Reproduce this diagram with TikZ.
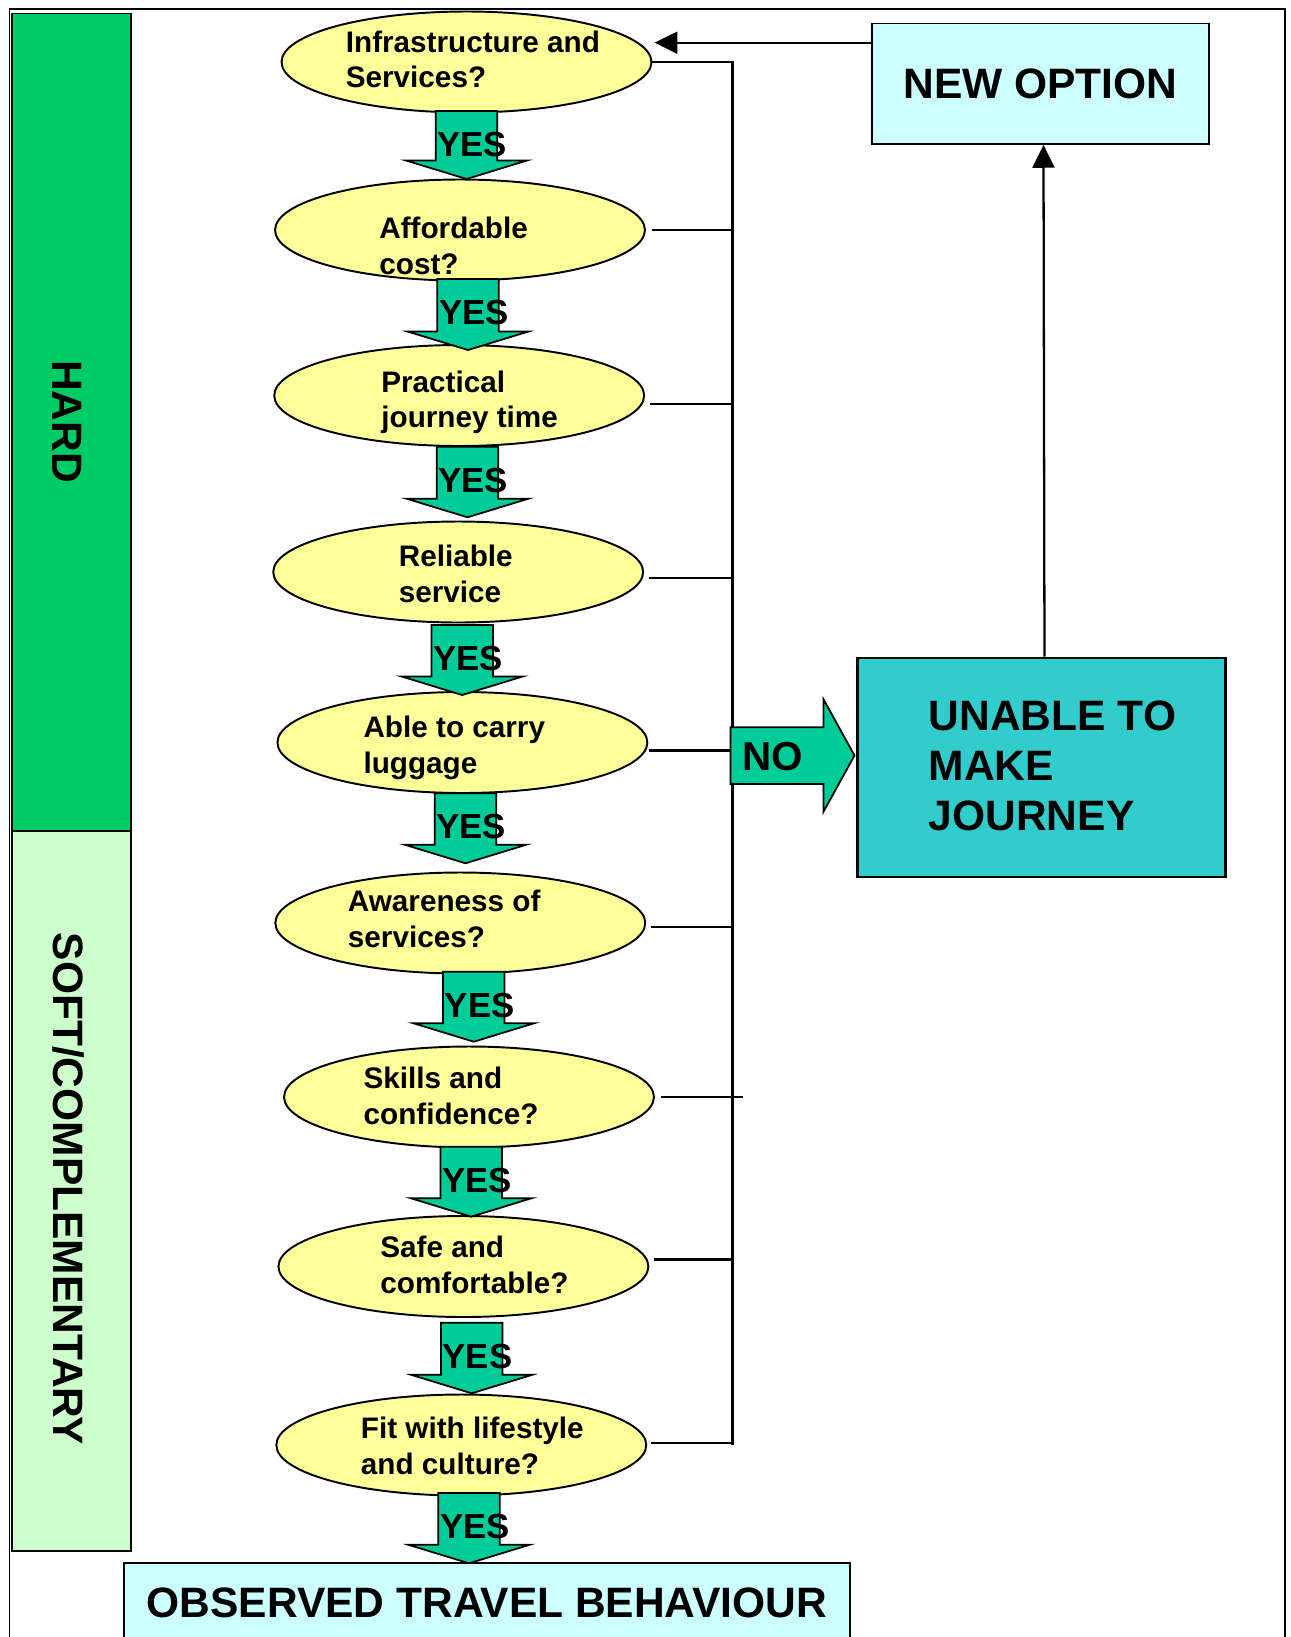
\documentclass[tikz,border=0pt]{standalone}
\usepackage{fontspec}
\setmainfont{Liberation Sans}
\usetikzlibrary{shapes.geometric, calc, arrows.meta, positioning}

\definecolor{askyellow}{HTML}{FFFF99}
\definecolor{yesgreen}{HTML}{00CC99}
\definecolor{hardgreen}{HTML}{00CC66}
\definecolor{softgreen}{HTML}{CCFFCC}
\definecolor{paleblue}{HTML}{CCFFFF}
\definecolor{tealbox}{HTML}{33CCCC}

\tikzset{
  ask/.style={ellipse, draw=black, line width=1.1pt, fill=askyellow,
    minimum width=7.4cm, minimum height=2.02cm, inner sep=0pt},
  asktxt/.style={anchor=west, align=left, inner sep=0pt,
    font=\fontsize{16.9}{20.1}\selectfont\bfseries},
  yesarrow/.style={draw=black, line width=1pt, fill=yesgreen},
  yestxt/.style={anchor=west, inner sep=0pt,
    font=\fontsize{19.8}{23}\selectfont\bfseries},
  bigtxt/.style={inner sep=0pt, font=\fontsize{24.2}{28.6}\selectfont\bfseries},
  busline/.style={draw=black, line width=1.3pt},
  linkarrow/.style={draw=black, line width=1.3pt,
    -{Triangle[length=13pt,width=12.5pt]}},
  sidebar/.style={draw=black, line width=1.1pt},
}

\begin{document}
\begin{tikzpicture}[x=0.02cm, y=-0.02cm]
\useasboundingbox (0,0) rectangle (1291,1637);
\clip (0,0) rectangle (1291,1637);

% block arrow sizes
\pgfmathsetmacro{\shaft}{30.8}
\pgfmathsetmacro{\headw}{60.5}
\pgfmathsetmacro{\headlen}{18.5}

% outer frame, open at the bottom
\draw[line width=1pt] (9.5,1660) -- (9.5,9) -- (1285,9) -- (1285,1660);

% side bars
\draw[sidebar, fill=hardgreen] (12,13.5) rectangle (131,831);
\draw[sidebar, fill=softgreen] (12,831) rectangle (131,1551);
\node[bigtxt, rotate=-90] (hard) at (67,421.6) {HARD};
\node[bigtxt, rotate=-90] (soft) at (68,1189) {SOFT/COMPLEMENTARY};

% question ellipses
\node[ask] (q1) at (466.5,62) {};
\node[ask] (q2) at (460,230) {};
\node[ask] (q3) at (459.2,395.5) {};
\node[ask] (q4) at (458.2,572) {};
\node[ask] (q5) at (462.4,742.5) {};
\node[ask] (q6) at (460.3,923) {};
\node[ask] (q7) at (469,1097) {};
\node[ask] (q8) at (463.4,1266.5) {};
\node[ask] (q9) at (461.3,1445) {};

% yes arrows down the column
\foreach \ax/\ytop/\ytip [count=\i] in {466.5/111/179, 468/279/350,
    467.5/446.7/517.3, 462.2/625/695, 465.5/793.3/863.3,
    473.8/971.7/1041.7, 471.2/1146.7/1216.7, 471.7/1322.7/1393.3,
    469/1493/1563.3} {
  \draw[yesarrow] (\ax-\shaft,\ytop) -- (\ax+\shaft,\ytop)
    -- (\ax+\shaft,\ytip-\headlen) -- (\ax+\headw,\ytip-\headlen)
    -- (\ax,\ytip) -- (\ax-\headw,\ytip-\headlen)
    -- (\ax-\shaft,\ytip-\headlen) -- cycle;
  \node[yestxt] (yes\i) at (\ax-\shaft+1.5,\ytop+33.5) {YES};
}

% question texts
\node[asktxt] (t1) at (345.5,59.5) {Infrastructure and\\Services?};
\node[asktxt] (t2) at (379,246) {Affordable\\cost?};
\node[asktxt] (t3) at (381,402) {Practical\\journey time};
\node[asktxt] (t4) at (398.5,574) {Reliable\\service};
\node[asktxt] (t5) at (363.2,748) {Able to carry\\luggage};
\node[asktxt] (t6) at (347.6,919) {Awareness of\\services?};
\node[asktxt] (t7) at (363.3,1096) {Skills and\\confidence?};
\node[asktxt] (t8) at (380,1265) {Safe and\\comfortable?};
\node[asktxt] (t9) at (360.6,1446) {Fit with lifestyle\\and culture?};

% "no" bus on the right of the column
\coordinate (bustop) at (732.6,62);
\coordinate (busbot) at (732.6,1445);
\draw[busline] (q1.east) -- (bustop) -- (busbot);
\foreach \q/\dx/\dy/\ext in {q2/6/0/0, q3/5/8.5/0, q4/5/6/0, q5/1/8/0,
    q6/5/4/0, q7/6/0/10, q8/5/-7/0, q9/4/-1.7/0}
  \draw[busline] ($(\q.east)+(\dx,\dy)$) coordinate (tmp)
    -- ($(tmp -| bustop)+(\ext,0)$);

% no arrow and outcome boxes
\draw[yesarrow] (730.6,727.3) -- (823.5,727.3) -- (823.5,699.3)
  -- (854.5,755.5) -- (823.5,811.7) -- (823.5,784) -- (730.6,784) -- cycle;
\node[bigtxt, anchor=west, font=\fontsize{23}{27}\selectfont\bfseries]
  (no) at (742,756.7) {NO};

\node[draw, line width=1.3pt, fill=tealbox, minimum width=7.36cm,
  minimum height=4.39cm] (nojbox) at (1041.5,767.5) {};
\node[bigtxt, anchor=west, align=left] (nojtxt) at (928.5,766)
  {UNABLE TO\\MAKE\\JOURNEY};

\node[bigtxt, draw, line width=1.1pt, fill=paleblue, minimum width=6.74cm,
  minimum height=2.41cm] (newopt) at (1040.5,83.7) {NEW OPTION};

\node[bigtxt, draw, line width=1.1pt, fill=paleblue, minimum width=14.54cm,
  minimum height=1.58cm] (obs) at (487,1602.5) {OBSERVED TRAVEL BEHAVIOUR};

% feedback to a new option
\coordinate (nojin) at (654.6,42.7);
\draw[linkarrow] (newopt.west |- nojin) -- (nojin);
\draw[linkarrow] ([xshift=1.7pt]nojbox.north) -- ([xshift=1.7pt]newopt.south);

\end{tikzpicture}
\end{document}
